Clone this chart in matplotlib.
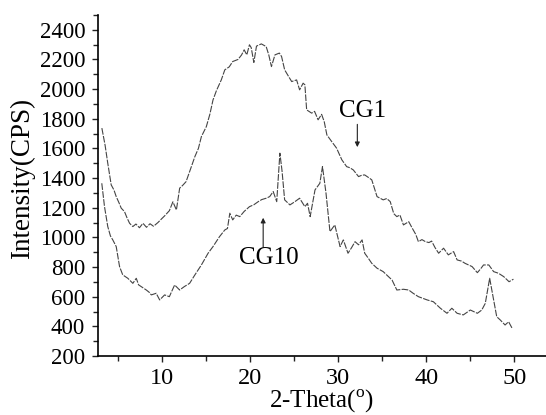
import numpy as np
import matplotlib
matplotlib.use("Agg")
import matplotlib.pyplot as plt
from matplotlib.ticker import MultipleLocator

# values
cg1_x = [3.13, 3.5, 3.8, 4.19, 4.5, 4.76, 5.1, 5.33, 5.7, 6.0, 6.28, 6.65, 7.0, 7.4,
         7.8, 8.2, 8.6, 9.0, 9.5, 10.0, 10.26, 10.8, 11.2, 11.6, 11.97, 12.3, 12.7,
         13.3, 13.7, 14.1, 14.44, 15.0, 15.4, 15.76, 16.15, 16.7, 17.1, 17.6, 18.0,
         18.6, 19.0, 19.3, 19.6, 19.9, 20.1, 20.4, 20.7, 21.25, 21.8, 22.1, 22.4,
         22.8, 23.3, 23.55, 23.9, 24.3, 24.7, 25.26, 25.6, 26.0, 26.2, 26.4, 26.97,
         27.3, 27.7, 28.1, 28.4, 28.7, 29.25, 29.8, 30.4, 30.95, 31.3, 31.7, 32.3,
         32.7, 33.0, 33.4, 33.8, 34.4, 35.1, 35.5, 35.9, 36.3, 36.65, 37.0, 37.4,
         38.0, 38.4, 38.8, 39.1, 39.5, 39.9, 40.3, 40.6, 41.0, 41.4, 41.96, 42.5,
         43.1, 43.5, 44.0, 44.4, 45.2, 45.8, 46.2, 46.5, 47.1, 47.65, 48.2, 48.8,
         49.4, 49.9]
cg1_y = [1737, 1620, 1500, 1354, 1320, 1275, 1230, 1197, 1174, 1130, 1095, 1073, 1090,
         1065, 1095, 1068, 1092, 1075, 1100, 1130, 1145, 1180, 1240, 1185, 1332, 1350,
         1376, 1477, 1545, 1600, 1680, 1747, 1830, 1927, 1990, 2062, 2130, 2150, 2186,
         2200, 2230, 2265, 2231, 2299, 2280, 2180, 2290, 2305, 2287, 2230, 2152, 2231,
         2243, 2220, 2130, 2090, 2051, 2062, 1995, 2040, 2029, 1860, 1838, 1850, 1793,
         1830, 1780, 1691, 1646, 1602, 1523, 1477, 1470, 1455, 1410, 1420, 1421, 1405,
         1388, 1275, 1253, 1262, 1241, 1160, 1140, 1151, 1084, 1106, 1062, 1020, 971,
         985, 971, 965, 975, 930, 893, 927, 882, 904, 848, 840, 825, 803, 762, 790,
         814, 814, 769, 758, 735, 701, 718]

cg10_x = [3.12, 3.43, 3.8, 4.1, 4.37, 4.76, 5.14, 5.5, 6.08, 6.65, 7.04, 7.3, 7.6,
          8.18, 8.5, 8.75, 9.3, 9.7, 10.26, 10.8, 11.1, 11.4, 11.97, 12.5, 13.1, 13.7,
          14.44, 15.2, 15.76, 16.5, 17.1, 17.4, 17.67, 18.0, 18.4, 18.8, 19.3, 19.9,
          20.4, 20.9, 21.3, 21.8, 22.2, 22.6, 23.0, 23.36, 23.6, 23.9, 24.5, 25.07,
          25.6, 26.2, 26.5, 26.8, 27.35, 27.9, 28.2, 28.6, 29.05, 29.6, 30.2, 30.57,
          31.1, 31.5, 31.9, 32.3, 32.7, 33.0, 33.4, 33.8, 34.4, 35.1, 35.7, 36.1,
          36.65, 37.4, 38.0, 38.5, 39.1, 40.1, 40.8, 41.6, 42.35, 42.9, 43.5, 44.2,
          45.0, 45.8, 46.3, 46.7, 47.2, 47.65, 48.0, 48.4, 48.95, 49.35, 49.75]
cg10_y = [1365, 1207, 1073, 1010, 983, 938, 803, 747, 724, 690, 724, 680, 668, 645,
          630, 612, 623, 578, 612, 600, 640, 679, 645, 668, 690, 747, 814, 893, 938,
          1005, 1050, 1060, 1163, 1118, 1150, 1140, 1175, 1207, 1220, 1241, 1255, 1264,
          1275, 1309, 1241, 1568, 1450, 1253, 1219, 1241, 1264, 1207, 1230, 1140, 1320,
          1365, 1478, 1298, 1039, 1084, 938, 983, 893, 930, 971, 950, 983, 893, 860,
          825, 792, 769, 735, 713, 645, 650, 645, 623, 600, 578, 566, 522, 488, 522,
          488, 477, 510, 488, 510, 555, 724, 578, 465, 443, 409, 431, 387]

plt.rcParams['font.family'] = ['Liberation Serif', 'DejaVu Serif']
plt.rcParams['mathtext.fontset'] = 'custom'
plt.rcParams['mathtext.rm'] = 'Liberation Serif'

fig = plt.figure(figsize=(5.46, 4.15), dpi=100)
ax = fig.add_axes([0.179, 0.1422, 0.821, 0.8217])

line_kw = dict(color='#444444', linewidth=0.8, dashes=(6, 1.2))
ax.plot(cg1_x, cg1_y, **line_kw)
ax.plot(cg10_x, cg10_y, **line_kw)

ax.set_xlim(2.66, 53.6)
ax.set_ylim(200, 2500)
ax.xaxis.set_major_locator(MultipleLocator(10))
ax.xaxis.set_minor_locator(MultipleLocator(5))
ax.yaxis.set_major_locator(MultipleLocator(200))
ax.yaxis.set_minor_locator(MultipleLocator(100))

ax.spines['top'].set_visible(False)
ax.spines['right'].set_visible(False)
ax.spines['left'].set_linewidth(1.2)
ax.spines['bottom'].set_linewidth(1.2)

ax.tick_params(axis='both', which='both', direction='out', width=1.0, color='#222222')
ax.tick_params(axis='both', which='major', length=4)
ax.tick_params(axis='both', which='minor', length=3.5)
ax.tick_params(axis='x', which='major', labelsize=17.5, pad=5)
ax.tick_params(axis='y', which='major', labelsize=16.5, pad=5)

ax.set_xlabel('2-Theta($^{\\rm o}$)', fontsize=18, va='bottom')
ax.xaxis.set_label_coords(0.5, -0.172)
ax.set_ylabel('Intensity(CPS)', fontsize=19.5, va='center')
ax.yaxis.set_label_coords(-0.169, 0.52)

arrow = dict(arrowstyle='-|>', color='#222222', lw=0.8, mutation_scale=7)
ax.annotate('', xy=(32.16, 1590), xytext=(32.16, 1781), arrowprops=arrow)
ax.text(32.75, 1853, 'CG1', fontsize=18, ha='center', va='center')
ax.annotate('', xy=(21.46, 1151), xytext=(21.46, 915), arrowprops=arrow)
ax.text(22.1, 861, 'CG10', fontsize=18, ha='center', va='center')

fig.savefig('out.png', dpi=100)
